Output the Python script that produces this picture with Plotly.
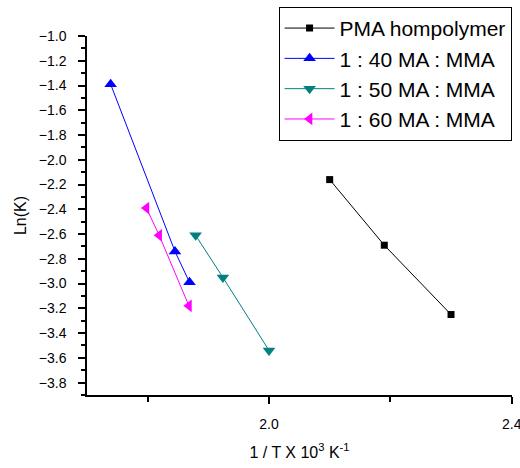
import plotly.graph_objects as go

# Data
pma_x = [2.10, 2.19, 2.30]
pma_y = [-2.16, -2.69, -3.25]

mma40_x = [1.739, 1.845, 1.869]
mma40_y = [-1.39, -2.74, -2.99]

mma50_x = [1.879, 1.924, 2.000]
mma50_y = [-2.61, -2.95, -3.54]

mma60_x = [1.798, 1.819, 1.868]
mma60_y = [-2.39, -2.61, -3.18]

series_names = ["PMA hompolymer", "1 : 40 MA : MMA", "1 : 50 MA : MMA", "1 : 60 MA : MMA"]

fig = go.Figure()
specs = [
    (pma_x, pma_y, series_names[0], "#000000", "square", 7),
    (mma40_x, mma40_y, series_names[1], "#0000FF", "triangle-up", 11),
    (mma50_x, mma50_y, series_names[2], "#008080", "triangle-down", 11),
    (mma60_x, mma60_y, series_names[3], "#FF00FF", "triangle-left", 11),
]
for xs, ys, name, color, sym, size in specs:
    fig.add_trace(go.Scatter(
        x=xs, y=ys, name=name, mode="lines+markers",
        line=dict(color=color, width=1),
        marker=dict(symbol=sym, size=size, color=color, line=dict(width=0)),
    ))

font_family = "Liberation Sans, Arial, sans-serif"
fig.update_layout(
    width=520, height=468,
    margin=dict(l=87, r=8, t=36, b=73, autoexpand=False),
    paper_bgcolor="white", plot_bgcolor="white",
    font=dict(family=font_family, color="black", size=14),
    showlegend=True,
    legend=dict(
        x=0.999, y=1.081, xanchor="right", yanchor="top",
        bgcolor="white", bordercolor="black", borderwidth=1,
        font=dict(size=21, family=font_family),
        tracegroupgap=0, itemwidth=50,
    ),
    xaxis=dict(
        range=[1.7, 2.4005], tick0=2.0, dtick=0.4, tickformat=".1f",
        showgrid=False, zeroline=False, automargin=False,
        showline=True, linecolor="black", linewidth=1.5,
        ticks="outside", ticklen=7, tickwidth=1.5, tickcolor="black",
        ticklabelstandoff=8, ticklabeloverflow="allow",
        minor=dict(dtick=0.2, tick0=2.0, ticks="outside", ticklen=5, tickwidth=1.5, tickcolor="black"),
        title=dict(text="1 / T X 10<sup>3</sup> K<sup>-1</sup>", font=dict(size=16), standoff=16),
    ),
    yaxis=dict(
        range=[-3.9, -1.0], tick0=-1.0, dtick=0.2, tickformat=".1f",
        showgrid=False, zeroline=False, automargin=False,
        showline=True, linecolor="black", linewidth=1.5,
        ticks="outside", ticklen=7, tickwidth=1.5, tickcolor="black",
        ticklabelstandoff=9,
        minor=dict(dtick=0.1, ticks="outside", ticklen=4, tickwidth=1.5, tickcolor="black"),
        title=dict(text="Ln(K)", font=dict(size=16), standoff=8),
    ),
)

fig.write_html("out.html")
